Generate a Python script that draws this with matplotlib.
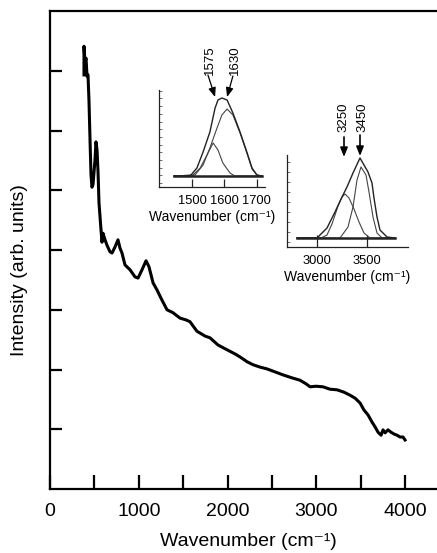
"""Raman-type spectrum with two peak-fit insets."""
import matplotlib

matplotlib.use("Agg")
import matplotlib.pyplot as plt
import numpy as np

plt.rcParams["font.family"] = ["Liberation Sans", "DejaVu Sans"]

# main spectrum (wavenumber, intensity in arb. units)
wn = [383, 383, 394, 406, 417, 428, 439, 451, 462, 473, 485, 507, 518, 530, 541,
      552, 575, 586, 597, 620, 642, 676, 699, 732, 766, 789, 811, 845, 901, 958,
      992, 1037, 1082, 1115, 1161, 1206, 1262, 1318, 1386, 1465, 1532, 1577, 1611,
      1656, 1690, 1746, 1803, 1893, 1994, 2085, 2141, 2220, 2287, 2366, 2445, 2535,
      2625, 2727, 2817, 2885, 2930, 2997, 3076, 3155, 3234, 3313, 3380, 3437, 3493,
      3538, 3583, 3628, 3662, 3696, 3730, 3752, 3775, 3808, 3842, 3876, 3910, 3944,
      3977, 4000]
inten = [6.93, 7.41, 7.15, 7.21, 6.91, 6.93, 6.51, 5.84, 5.26, 5.05, 5.10, 5.51,
         5.81, 5.67, 5.31, 4.79, 4.33, 4.13, 4.28, 4.17, 4.08, 3.97, 3.95, 4.05,
         4.17, 4.03, 3.95, 3.75, 3.67, 3.55, 3.53, 3.67, 3.82, 3.72, 3.45, 3.33,
         3.16, 3.00, 2.95, 2.86, 2.83, 2.80, 2.73, 2.64, 2.61, 2.56, 2.53, 2.41,
         2.33, 2.26, 2.21, 2.13, 2.08, 2.04, 2.01, 1.96, 1.91, 1.86, 1.82, 1.76,
         1.71, 1.72, 1.71, 1.67, 1.66, 1.62, 1.57, 1.52, 1.44, 1.32, 1.24, 1.12,
         1.04, 0.95, 0.90, 0.99, 0.94, 0.99, 0.95, 0.92, 0.90, 0.87, 0.87, 0.82]

# inset 1: G band fit
g_wn = [1445, 1494, 1515, 1534, 1555, 1571, 1580, 1592, 1608, 1626, 1648, 1669,
        1685, 1700, 1715]
g_env = [0, 0, 8, 24, 44, 68, 76, 78, 76, 63, 44, 24, 8, 1, 0]
g1_wn = [1445, 1503, 1525, 1546, 1565, 1580, 1595, 1617, 1632, 1715]
g1 = [0, 1, 8, 21, 33, 26, 13, 3, 0, 0]
g2_wn = [1445, 1509, 1534, 1555, 1577, 1592, 1608, 1626, 1648, 1669, 1685, 1700, 1715]
g2 = [0, 1, 11, 28, 48, 61, 67, 61, 43, 23, 7, 1, 0]

# inset 2: OH band fit
oh_wn = [2800, 3000, 3100, 3180, 3250, 3300, 3360, 3430, 3510, 3550, 3570, 3600,
         3630, 3700, 3780]
oh_env = [0, 0, 10, 26, 41, 51, 65, 80, 66, 55, 40, 21, 8, 1, 0]
oh1_wn = [2800, 3040, 3100, 3150, 3210, 3250, 3280, 3320, 3370, 3420, 3470, 3530, 3780]
oh1 = [0, 0, 3, 14, 32, 41, 44, 40, 29, 16, 5, 0, 0]
oh2_wn = [2800, 3230, 3310, 3360, 3400, 3440, 3490, 3520, 3560, 3600, 3650, 3780]
oh2 = [0, 0, 11, 31, 58, 71, 63, 46, 21, 5, 0, 0]

XLABEL = "Wavenumber (cm\u207b\u00b9)"

W, H = 437, 553
fig = plt.figure(figsize=(W / 100, H / 100), dpi=100)


def fbox(left, top, right, bottom):
    return [left / W, 1 - bottom / H, (right - left) / W, (bottom - top) / H]


ax = fig.add_axes(fbox(50, 11, 437, 489))
ax.plot(wn, inten, color="black", lw=2.2, solid_joinstyle="round")
ax.set_xlim(0, 4360)
ax.set_ylim(0, 8)
ax.set_xticks([0, 1000, 2000, 3000, 4000])
ax.set_xticks([500, 1500, 2500, 3500], minor=True)
ax.set_yticks(range(1, 8))
ax.set_yticklabels([])
ax.tick_params(axis="x", which="both", direction="in", length=10, width=1.6,
               labelsize=14, pad=10)
ax.tick_params(axis="y", direction="in", length=8.5, width=1.6)
ax.spines["right"].set_visible(False)
for s in ("left", "bottom", "top"):
    ax.spines[s].set_linewidth(1.6)
fig.text(248 / W, 1 - 541 / H, XLABEL, ha="center", va="center", fontsize=14)
fig.text(20 / W, 1 - 270 / H, "Intensity (arb. units)", rotation=90,
         ha="center", va="center", fontsize=14)

ink = "#222222"


def style_inset(a, xticks, tlen, ystep):
    a.set_xticks(xticks)
    lo, hi = a.get_ylim()
    a.set_yticks(np.arange(lo + ystep / 2, hi, ystep))
    a.set_yticklabels([])
    a.tick_params(axis="x", direction="in", length=tlen, width=0.9,
                  labelsize=9.3, pad=6, color=ink)
    a.tick_params(axis="y", direction="in", length=2, width=0.6, color="#555555")
    for s in ("right", "top"):
        a.spines[s].set_visible(False)
    for s in ("left", "bottom"):
        a.spines[s].set_linewidth(0.9)
        a.spines[s].set_color(ink)
    a.patch.set_alpha(0)


arrow = dict(arrowstyle="-|>,head_length=0.55,head_width=0.22",
             color="black", shrinkA=0, shrinkB=0)

# inset 1
a1 = fig.add_axes(fbox(159, 90, 265, 187))
a1.plot(g1_wn, g1, color="#444444", lw=0.8)
a1.plot(g2_wn, g2, color="#444444", lw=0.8)
a1.plot(g_wn, g_env, color=ink, lw=1.0)
a1.plot([1445, 1715], [0, 0], color=ink, lw=1.8)
a1.set_xlim(1398, 1725)
a1.set_ylim(-11, 86)
style_inset(a1, [1500, 1600, 1700], 6, 7.7)
a1.set_xlabel(XLABEL, fontsize=10, labelpad=2)
for lab, tx, tail, tip in [("1575", 1555, (1549, 101), (1571, 79)),
                           ("1630", 1632, (1626, 100), (1608, 79))]:
    a1.text(tx, 116, lab, rotation=90, ha="center", va="center", fontsize=9.5,
            clip_on=False)
    a1.annotate("", xy=tip, xytext=tail, annotation_clip=False,
                arrowprops=dict(arrow, lw=0.9))

# inset 2
a2 = fig.add_axes(fbox(287, 155, 408, 247))
a2.plot(oh1_wn, oh1, color="#444444", lw=0.8)
a2.plot(oh2_wn, oh2, color="#444444", lw=0.8)
a2.plot(oh_wn, oh_env, color=ink, lw=1.0)
a2.plot([2800, 3780], [0, 0], color=ink, lw=1.8)
a2.set_xlim(2700, 3910)
a2.set_ylim(-9, 83)
style_inset(a2, [3000, 3500], 9, 10)
a2.set_xlabel(XLABEL, fontsize=10, labelpad=2)
for lab, tx, tail, tip in [("3250", 3260, (3270, 101), (3270, 81)),
                           ("3450", 3450, (3430, 103), (3430, 82))]:
    a2.text(tx, 121, lab, rotation=90, ha="center", va="center", fontsize=9.5,
            clip_on=False)
    a2.annotate("", xy=tip, xytext=tail, annotation_clip=False,
                arrowprops=dict(arrow, lw=1.2))

fig.savefig("out.png", dpi=100)
